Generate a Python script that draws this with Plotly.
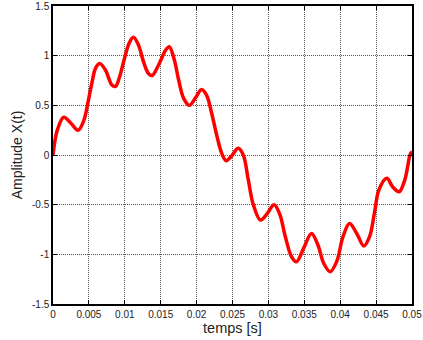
import plotly.graph_objects as go

t_vals = [0.0, 0.0006, 0.0015, 0.0025, 0.0035, 0.0043, 0.0049, 0.0055, 0.0059, 0.0065,
          0.0073, 0.0082, 0.0087, 0.0092, 0.0099, 0.0106, 0.0112, 0.0119, 0.0126, 0.0133,
          0.0138, 0.0147, 0.0157, 0.0162, 0.0169, 0.0175, 0.0182, 0.0190, 0.0198, 0.0207,
          0.0214, 0.0221, 0.0228, 0.0235, 0.0241, 0.0248, 0.0258, 0.0265, 0.0272, 0.0279,
          0.0289, 0.0298, 0.0308, 0.0316, 0.0323, 0.0332, 0.0339, 0.0349, 0.0360, 0.0369,
          0.0377, 0.0386, 0.0395, 0.0404, 0.0413, 0.0423, 0.0433, 0.0441, 0.0448, 0.0454,
          0.0465, 0.0473, 0.0482, 0.0490, 0.0498, 0.0500]
x_vals = [0.0, 0.25, 0.38, 0.32, 0.25, 0.35, 0.54, 0.755, 0.87, 0.92,
          0.856, 0.705, 0.69, 0.77, 0.957, 1.125, 1.185, 1.108, 0.94, 0.82,
          0.80, 0.906, 1.057, 1.09, 0.957, 0.755, 0.57, 0.50, 0.57, 0.66,
          0.60, 0.42, 0.20, 0.017, -0.057, -0.017, 0.067, 0.0, -0.25, -0.50,
          -0.655, -0.594, -0.50, -0.60, -0.805, -1.02, -1.075, -0.94, -0.79, -0.906,
          -1.09, -1.175, -1.075, -0.82, -0.69, -0.79, -0.916, -0.82, -0.57, -0.35,
          -0.235, -0.32, -0.37, -0.25, 0.017, 0.03]

x_ticks = [0, 0.005, 0.01, 0.015, 0.02, 0.025, 0.03, 0.035, 0.04, 0.045, 0.05]
x_tick_text = ["0", "0.005", "0.01", "0.015", "0.02", "0.025", "0.03", "0.035", "0.04", "0.045", "0.05"]
y_ticks = [-1.5, -1, -0.5, 0, 0.5, 1, 1.5]
y_tick_text = ["-1.5", "-1", "-0.5", "0", "0.5", "1", "1.5"]

fig = go.Figure()
fig.add_trace(go.Scatter(x=t_vals, y=x_vals, mode="lines",
                         line=dict(color="#ff0000", width=3.5, shape="spline", smoothing=1.0),
                         showlegend=False))

font = dict(family="Liberation Sans, Arial, sans-serif", color="#222222")
axis_common = dict(showline=True, linecolor="black", linewidth=1.5, mirror="ticks",
                   ticks="inside", ticklen=4, tickcolor="black", tickwidth=1,
                   showgrid=True, gridcolor="#555555", gridwidth=1, griddash="1px,1px",
                   zeroline=False, automargin=False,
                   tickfont=dict(size=10, family=font["family"], color="#222222"))

fig.update_layout(
    width=423, height=340,
    margin=dict(l=53, r=11, t=6, b=36),
    paper_bgcolor="white", plot_bgcolor="white",
    font=font,
    xaxis=dict(range=[0, 0.05], tickvals=x_ticks, ticktext=x_tick_text,
               title=dict(text="temps [s]", font=dict(size=14.5), standoff=4), **axis_common),
    yaxis=dict(range=[-1.5, 1.5], tickvals=y_ticks, ticktext=y_tick_text,
               title=dict(text="Amplitude X(t)", font=dict(size=14), standoff=6), **axis_common),
)

fig.write_html("out.html")
